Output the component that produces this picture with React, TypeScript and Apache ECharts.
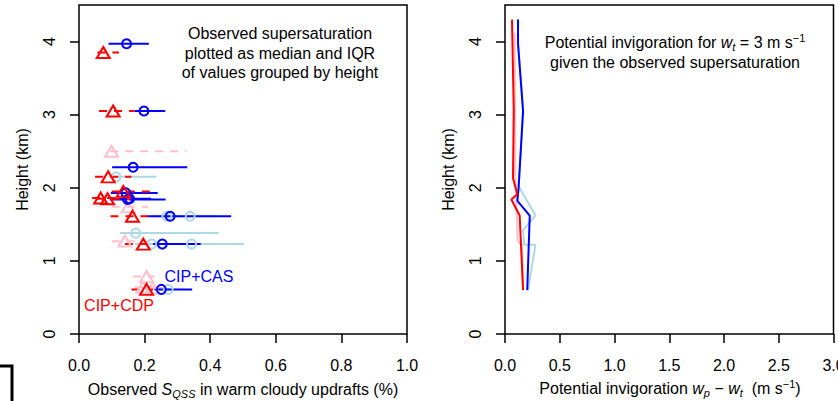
import React, { useEffect, useRef } from 'react';
import * as echarts from 'echarts';

const FONT = '"Liberation Sans", Arial, Helvetica, sans-serif';

// Left panel rows: [height (km), median, q1, q3]
const casRows: number[][] = [
  [3.97, 0.145, 0.09, 0.213],
  [3.05, 0.198, 0.17, 0.263],
  [2.28, 0.165, 0.101, 0.33],
  [1.93, 0.143, 0.097, 0.24],
  [1.84, 0.148, 0.094, 0.264],
  [1.85, 0.154, 0.12, 0.22],
  [1.61, 0.278, 0.206, 0.464],
  [1.23, 0.254, 0.226, 0.371],
  [0.61, 0.251, 0.23, 0.345],
];
const cdpRows: number[][] = [
  [3.85, 0.074, 0.056, 0.122],
  [3.05, 0.104, 0.061, 0.17],
  [2.15, 0.089, 0.049, 0.16],
  [1.95, 0.135, 0.1, 0.235],
  [1.86, 0.066, 0.04, 0.15],
  [1.85, 0.087, 0.055, 0.18],
  [1.61, 0.163, 0.096, 0.21],
  [1.23, 0.196, 0.14, 0.22],
  [0.61, 0.206, 0.16, 0.226],
];
const casAltRows: number[][] = [
  [2.15, 0.113, 0.09, 0.236],
  [1.61, 0.268, 0.22, 0.34],
  [1.61, 0.339, 0.26, 0.42],
  [1.38, 0.173, 0.125, 0.426],
  [1.23, 0.343, 0.226, 0.503],
  [1.23, 0.222, 0.17, 0.3],
  [0.61, 0.272, 0.235, 0.3],
];
const cdpAltRows: number[][] = [
  [2.5, 0.099, 0.095, 0.327],
  [1.74, 0.15, 0.1, 0.21],
  [1.27, 0.14, 0.1, 0.216],
  [0.785, 0.206, 0.165, 0.23],
  [0.64, 0.195, 0.17, 0.24],
  [0.63, 0.225, 0.19, 0.26],
];

// Right panel profiles: [invigoration (m/s), height (km)]
const cdpProfile: number[][] = [
  [0.064, 4.3], [0.08, 3.05], [0.073, 2.13], [0.113, 1.91], [0.058, 1.84], [0.134, 1.62], [0.165, 0.6],
];
const casProfile: number[][] = [
  [0.119, 4.3], [0.119, 3.97], [0.165, 3.05], [0.125, 2.02], [0.113, 1.82], [0.226, 1.62], [0.203, 0.6],
];
const casAltProfile: number[][] = [
  [0.119, 4.3], [0.119, 3.97], [0.165, 3.05], [0.125, 2.02], [0.278, 1.62], [0.165, 1.42], [0.175, 1.22], [0.278, 1.22], [0.21, 0.6],
];
const cdpAltProfile: number[][] = [
  [0.089, 4.12], [0.092, 3.05], [0.095, 2.15], [0.105, 1.74], [0.113, 1.4], [0.116, 1.27], [0.155, 1.22], [0.165, 0.61],
];

const yTicks = [0, 1, 2, 3, 4];

const BLUE = '#0000FF';
const RED = '#FF0000';
const LBLUE = '#ADD8E6';
const PINK = '#FFC0CB';

function errSeries(rows: number[][], color: string, dashed: boolean) {
  return {
    type: 'custom',
    xAxisIndex: 0,
    yAxisIndex: 0,
    silent: true,
    data: rows.map((r) => [r[2], r[3], r[0]]),
    encode: { x: [0, 1], y: 2 },
    renderItem: (_p: any, api: any) => {
      const a = api.coord([api.value(0), api.value(2)]);
      const b = api.coord([api.value(1), api.value(2)]);
      return {
        type: 'line',
        shape: { x1: a[0], y1: a[1], x2: b[0], y2: b[1] },
        style: { stroke: color, lineWidth: 2, lineDash: dashed ? [8, 7] : null },
      };
    },
  };
}

function markSeries(rows: number[][], color: string, tri: boolean) {
  return {
    type: 'scatter',
    xAxisIndex: 0,
    yAxisIndex: 0,
    silent: true,
    symbol: tri ? 'triangle' : 'circle',
    symbolSize: tri ? [13, 11] : 9,
    data: rows.map((r) => [r[1], r[0]]),
    itemStyle: { color: 'rgba(0,0,0,0)', borderColor: color, borderWidth: 2, opacity: 1 },
  };
}

function profSeries(rows: number[][], color: string) {
  return {
    type: 'line',
    xAxisIndex: 1,
    yAxisIndex: 1,
    silent: true,
    symbol: 'none',
    data: rows,
    lineStyle: { color, width: 2 },
  };
}

const baseText = { fontFamily: FONT, fontSize: 16, color: '#000' };

function xAxisCfg(gridIndex: number, max: number, interval: number) {
  return {
    type: 'value',
    gridIndex,
    min: 0,
    max,
    interval,
    axisLine: { show: false },
    axisTick: { show: true, inside: false, length: 9, lineStyle: { color: '#000', width: 1.5 } },
    axisLabel: { ...baseText, margin: 23, formatter: (v: number) => v.toFixed(1), showMaxLabel: true, showMinLabel: true, hideOverlap: false },
    splitLine: { show: false },
  };
}

function yAxisCfg(gridIndex: number) {
  return {
    type: 'value',
    gridIndex,
    min: 0,
    max: 4.5,
    name: 'Height (km)',
    nameLocation: 'middle',
    nameGap: 49,
    nameTextStyle: { ...baseText },
    axisLine: { show: false },
    axisTick: { show: true, inside: false, length: 9, customValues: yTicks, lineStyle: { color: '#000', width: 1.5 } },
    axisLabel: { ...baseText, margin: 22, rotate: 90, customValues: yTicks, formatter: (v: number) => String(v) },
    splitLine: { show: false },
  };
}

const rich = {
  i: { fontFamily: FONT, fontSize: 16, fontStyle: 'italic', lineHeight: 20, fill: '#000' },
  sub: { fontFamily: FONT, fontSize: 11, fontStyle: 'italic', lineHeight: 12, verticalAlign: 'bottom', fill: '#000' },
  sup: { fontFamily: FONT, fontSize: 11, lineHeight: 12, verticalAlign: 'top', fill: '#000' },
  n: { fontFamily: FONT, fontSize: 16, lineHeight: 20, fill: '#000' },
};

export default function App() {
  const ref = useRef<HTMLDivElement>(null);
  useEffect(() => {
    if (!ref.current) return;
    const chart = echarts.init(ref.current, undefined, { renderer: 'svg' });
    chart.setOption({
      animation: false,
      backgroundColor: '#fff',
      grid: [
        { left: 79, top: 5, width: 328, height: 329, show: true, borderColor: '#000', borderWidth: 1.5, backgroundColor: 'transparent', containLabel: false, outerBoundsMode: 'none' },
        { left: 505, top: 5, width: 328.5, height: 329, show: true, borderColor: '#000', borderWidth: 1.5, backgroundColor: 'transparent', containLabel: false, outerBoundsMode: 'none' },
      ],
      xAxis: [xAxisCfg(0, 1, 0.2), xAxisCfg(1, 3, 0.5)],
      yAxis: [yAxisCfg(0), yAxisCfg(1)],
      series: [
        errSeries(cdpAltRows, PINK, true),
        markSeries(cdpAltRows, PINK, true),
        errSeries(casAltRows, LBLUE, false),
        markSeries(casAltRows, LBLUE, false),
        errSeries(casRows, BLUE, false),
        markSeries(casRows, BLUE, false),
        errSeries(cdpRows, RED, true),
        markSeries(cdpRows, RED, true),
        profSeries(casAltProfile, LBLUE),
        profSeries(cdpAltProfile, PINK),
        profSeries(casProfile, BLUE),
        profSeries(cdpProfile, RED),
      ],
      graphic: [
        {
          type: 'text', x: 280, y: 53, silent: true,
          style: {
            text: 'Observed supersaturation\nplotted as median and IQR\nof values grouped by height',
            fontFamily: FONT, fontSize: 16, lineHeight: 19.5, fill: '#000', align: 'center', verticalAlign: 'middle',
          },
        },
        {
          type: 'text', x: 675, y: 52, silent: true,
          style: {
            text: '{n|Potential invigoration for }{i|w}{sub|t}{n| = 3 m s}{sup|\u22121}\n{n|given the observed supersaturation}',
            rich, fontFamily: FONT, fontSize: 16, lineHeight: 20, fill: '#000', align: 'center', verticalAlign: 'middle',
          },
        },
        {
          type: 'text', x: 243, y: 389, silent: true,
          style: {
            text: '{n|Observed }{i|S}{sub|QSS}{n| in warm cloudy updrafts (%)}',
            rich, fontFamily: FONT, fontSize: 16, fill: '#000', align: 'center', verticalAlign: 'middle',
          },
        },
        {
          type: 'text', x: 670, y: 388, silent: true,
          style: {
            text: '{n|Potential invigoration }{i|w}{sub|p}{n| \u2212 }{i|w}{sub|t}{n|  (m s}{sup|\u22121}{n|)}',
            rich, fontFamily: FONT, fontSize: 16, fill: '#000', align: 'center', verticalAlign: 'middle',
          },
        },
        {
          type: 'text', x: 199, y: 276, silent: true,
          style: { text: 'CIP+CAS', fontFamily: FONT, fontSize: 16, fill: BLUE, align: 'center', verticalAlign: 'middle' },
        },
        {
          type: 'text', x: 119, y: 305, silent: true,
          style: { text: 'CIP+CDP', fontFamily: FONT, fontSize: 16, fill: RED, align: 'center', verticalAlign: 'middle' },
        },
        {
          type: 'polyline', silent: true,
          shape: { points: [[0, 366], [12, 366], [12, 401]] },
          style: { stroke: '#000', lineWidth: 3, fill: 'none' },
        },
      ],
    });
    return () => chart.dispose();
  }, []);
  return <div ref={ref} style={{ position: 'fixed', left: 0, top: 0, width: 838, height: 401 }} />;
}
